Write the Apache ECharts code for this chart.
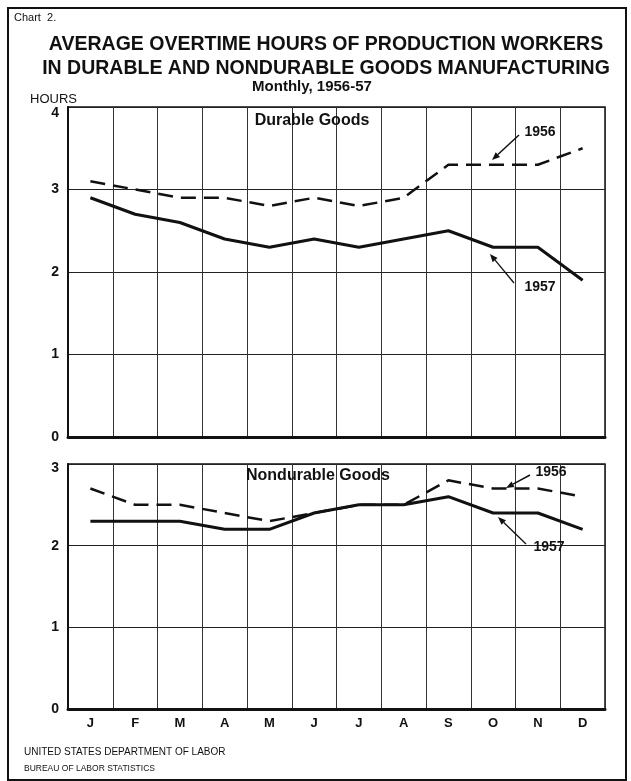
<!DOCTYPE html>
<html>
<head>
<meta charset="utf-8">
<script src="https://cdn.jsdelivr.net/npm/echarts@6/dist/echarts.min.js"></script>
<style>
html,body{margin:0;padding:0;background:#fff;}
#c{width:631px;height:781px;}
</style>
</head>
<body>
<div id="c"></div>
<script>
const months = ['J','F','M','A','M','J','J','A','S','O','N','D'];
const durable1956 = [3.1, 3.0, 2.9, 2.9, 2.8, 2.9, 2.8, 2.9, 3.3, 3.3, 3.3, 3.5];
const durable1957 = [2.9, 2.7, 2.6, 2.4, 2.3, 2.4, 2.3, 2.4, 2.5, 2.3, 2.3, 1.9];
const nondurable1956 = [2.7, 2.5, 2.5, 2.4, 2.3, 2.4, 2.5, 2.5, 2.8, 2.7, 2.7, 2.6];
const nondurable1957 = [2.3, 2.3, 2.3, 2.2, 2.2, 2.4, 2.5, 2.5, 2.6, 2.4, 2.4, 2.2];
const durableMax = 4;
const nondurableMax = 3;

const INK = '#111';
const FONT = 'Liberation Sans, Arial, sans-serif';

const chart = echarts.init(document.getElementById('c'), null, {renderer: 'canvas'});

function xAxis(gridIndex, showLabels) {
  return {
    type: 'category', gridIndex: gridIndex, data: months, boundaryGap: true,
    axisLine: {show: true, lineStyle: {color: INK, width: 3}},
    axisTick: {show: false},
    axisLabel: {show: showLabels, color: INK, fontFamily: FONT, fontWeight: 'bold', fontSize: 13, margin: 8},
    splitLine: {show: true, lineStyle: {color: '#333', width: 1}}
  };
}
function yAxis(gridIndex, max, topPad) {
  return {
    type: 'value', gridIndex: gridIndex, min: 0, max: max, interval: 1,
    axisLine: {show: true, lineStyle: {color: INK, width: 2}},
    axisTick: {show: false},
    axisLabel: {
      color: INK, fontFamily: FONT, fontWeight: 'bold', fontSize: 14, margin: 9,
      formatter: function (v) { return v === max ? '{t|' + v + '}' : '{n|' + v + '}'; },
      rich: {
        t: {color: INK, fontFamily: FONT, fontWeight: 'bold', fontSize: 14, padding: [topPad, 0, 0, 0]},
        n: {color: INK, fontFamily: FONT, fontWeight: 'bold', fontSize: 14}
      }
    },
    splitLine: {show: true, lineStyle: {color: '#222', width: 1}}
  };
}
function dashed(name, x, y, data) {
  return {name: name, type: 'line', xAxisIndex: x, yAxisIndex: y, data: data, symbol: 'none',
    lineStyle: {color: INK, width: 2.5, type: [15, 8]}, z: 3, silent: true};
}
function solid(name, x, y, data) {
  return {name: name, type: 'line', xAxisIndex: x, yAxisIndex: y, data: data, symbol: 'none',
    lineStyle: {color: INK, width: 3}, z: 4, silent: true};
}

function arrow(x1, y1, x2, y2, w) {
  const ang = Math.atan2(y2 - y1, x2 - x1);
  const L = 8, H = 3.2;
  const bx = x2 - L * Math.cos(ang), by = y2 - L * Math.sin(ang);
  const px = -Math.sin(ang) * H, py = Math.cos(ang) * H;
  return [
    {type: 'line', shape: {x1: x1, y1: y1, x2: bx, y2: by}, style: {stroke: INK, lineWidth: w || 1.3}, z: 10},
    {type: 'polygon', shape: {points: [[x2, y2], [bx + px, by + py], [bx - px, by - py]]}, style: {fill: INK}, z: 10}
  ];
}
function txt(x, y, text, size, weight, align) {
  return {type: 'text', x: x, y: y, z: 10,
    style: {text: text, fill: INK, font: (weight || 'bold') + ' ' + size + 'px ' + FONT,
      textAlign: align || 'center', textVerticalAlign: 'middle'}};
}

const graphics = [
  {type: 'rect', shape: {x: 8, y: 8, width: 618, height: 772}, style: {fill: 'none', stroke: INK, lineWidth: 2}, z: 0},
  txt(14, 18, 'Chart  2.', 11, 'normal', 'left'),
  txt(326, 45, 'AVERAGE OVERTIME HOURS OF PRODUCTION WORKERS', 19.5),
  txt(326, 69, 'IN DURABLE AND NONDURABLE GOODS MANUFACTURING', 19.5),
  txt(312, 87, 'Monthly, 1956-57', 15),
  txt(30, 99, 'HOURS', 13, 'normal', 'left'),
  txt(312, 121, 'Durable Goods', 16),
  txt(318, 476, 'Nondurable Goods', 16),
  txt(540, 132, '1956', 14),
  txt(540, 287, '1957', 14),
  txt(551, 472, '1956', 14),
  txt(549, 547, '1957', 14),
  txt(24, 752, 'UNITED STATES DEPARTMENT OF LABOR', 10, 'normal', 'left'),
  txt(24, 769, 'BUREAU OF LABOR STATISTICS', 8.5, 'normal', 'left')
].concat(
  arrow(519, 135, 492, 160, 1.5),
  arrow(514, 283, 490, 254, 1.3),
  arrow(530, 475, 506, 488, 1.5),
  arrow(526, 544, 498, 517, 1.3)
);

chart.setOption({
  backgroundColor: '#fff',
  animation: false,
  grid: [
    {left: 68, top: 107, width: 537, height: 330, show: true, borderColor: INK, borderWidth: 1.5, backgroundColor: 'transparent'},
    {left: 68, top: 464, width: 537, height: 245, show: true, borderColor: INK, borderWidth: 1.5, backgroundColor: 'transparent'}
  ],
  xAxis: [xAxis(0, false), xAxis(1, true)],
  yAxis: [yAxis(0, durableMax, 12), yAxis(1, nondurableMax, 8)],
  series: [
    dashed('1956', 0, 0, durable1956),
    solid('1957', 0, 0, durable1957),
    dashed('1956', 1, 1, nondurable1956),
    solid('1957', 1, 1, nondurable1957)
  ],
  graphic: graphics
});
</script>
</body>
</html>
